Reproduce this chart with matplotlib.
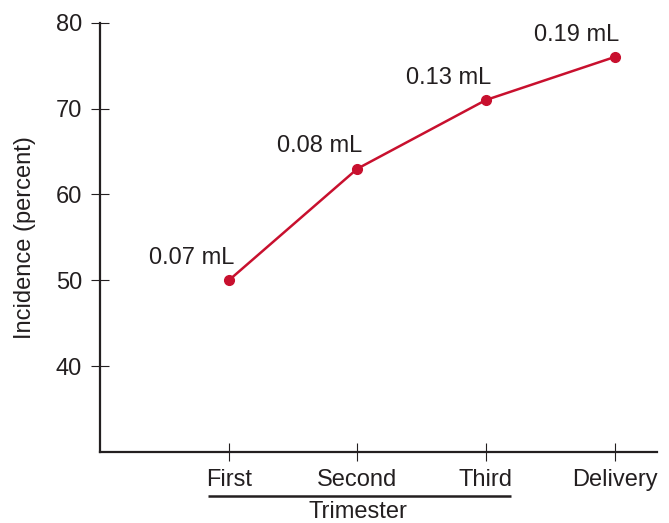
import matplotlib
matplotlib.use("Agg")
import matplotlib.pyplot as plt
import matplotlib.transforms as mtransforms

# data
stages = ["First", "Second", "Third", "Delivery"]
incidence = [50, 63, 71, 76]
doses = ["0.07 mL", "0.08 mL", "0.13 mL", "0.19 mL"]

text_color = "#231f20"
red = "#c8102e"
fs = 17

plt.rcParams["font.family"] = ["Liberation Sans", "DejaVu Sans"]

fig = plt.figure(figsize=(6.69, 5.23), dpi=100)
ax = fig.add_axes([0.150, 0.1358, 0.832, 0.8208])

pos = list(range(1, len(stages) + 1))
ax.plot(pos, incidence, color=red, lw=1.8, marker="o", ms=7, zorder=3)

for x, y, lab in zip(pos, incidence, doses):
    ax.annotate(lab, (x, y), xytext=(-27, 16), textcoords="offset points",
                ha="center", va="center", fontsize=fs, color=text_color)

ax.set_xlim(0, 4.33)
ax.set_ylim(30, 80)
ax.set_yticks([40, 50, 60, 70, 80])
ax.set_xticks(pos)
ax.set_xticklabels(stages)

for s in ["top", "right"]:
    ax.spines[s].set_visible(False)
for s in ["left", "bottom"]:
    ax.spines[s].set_linewidth(1.6)
    ax.spines[s].set_color(text_color)

ax.tick_params(axis="both", direction="inout", length=12.5, width=0.8,
               color=text_color, labelcolor=text_color, labelsize=fs)
ax.tick_params(axis="y", pad=7)
ax.tick_params(axis="x", pad=6)

ax.set_ylabel("Incidence (percent)", fontsize=fs, color=text_color)
ax.yaxis.set_label_coords(-0.116, 0.5)

# underline grouping the trimesters
trans = mtransforms.blended_transform_factory(ax.transData, ax.transAxes)
ax.plot([0.835, 3.197], [-0.1025, -0.1025], transform=trans, color=text_color,
        lw=1.8, clip_on=False, solid_capstyle="butt")
ax.text(2, -0.1535, "Trimester", transform=trans, ha="center", va="baseline",
        fontsize=fs, color=text_color)

fig.savefig("out.png", dpi=100)
